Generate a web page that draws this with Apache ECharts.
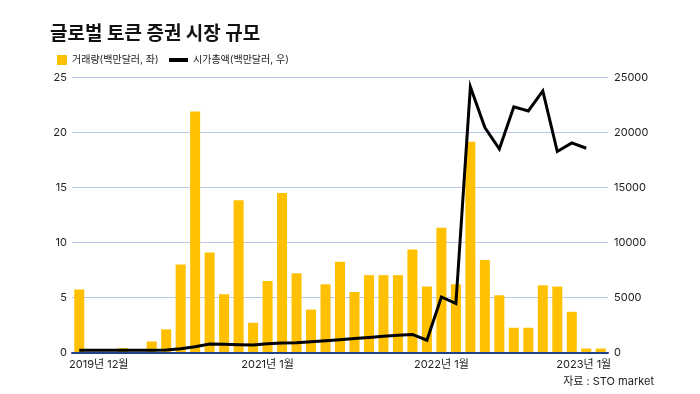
<!DOCTYPE html>
<html>
<head>
<meta charset="utf-8">
<script src="https://cdn.jsdelivr.net/npm/echarts@6/dist/echarts.min.js"></script>
<style>html,body{margin:0;padding:0;background:#fff;}#c{width:700px;height:394px;}</style>
</head>
<body>
<div id="c"></div>
<script>
const categories = [
  '2019년 12월',
  '2020년 1월','2020년 2월','2020년 3월','2020년 4월','2020년 5월','2020년 6월',
  '2020년 7월','2020년 8월','2020년 9월','2020년 10월','2020년 11월','2020년 12월',
  '2021년 1월','2021년 2월','2021년 3월','2021년 4월','2021년 5월','2021년 6월',
  '2021년 7월','2021년 8월','2021년 9월','2021년 10월','2021년 11월','2021년 12월',
  '2022년 1월','2022년 2월','2022년 3월','2022년 4월','2022년 5월','2022년 6월',
  '2022년 7월','2022년 8월','2022년 9월','2022년 10월','2022년 11월',
  '2023년 1월'
];
const tickLabels = ['2019년 12월','2021년 1월','2022년 1월','2023년 1월'];
const volume = [
  5.73, 0, 0, 0.4, 0, 1.0, 2.1, 8.0, 21.9, 9.1, 5.3, 13.85, 2.7,
  6.5, 14.5, 7.2, 3.9, 6.2, 8.25, 5.5, 7.03, 7.03, 7.03, 9.36, 6.0,
  11.35, 6.2, 19.15, 8.4, 5.2, 2.25, 2.25, 6.1, 6.0, 3.7, 0.36, 0.36
];
const marketCap = [
  200, 200, 200, 200, 200, 200, 220, 350, 530, 770, 740, 710, 690,
  790, 870, 880, 980, 1070, 1170, 1270, 1370, 1470, 1570, 1640, 1120,
  5050, 4450, 24150, 20450, 18500, 22330, 21960, 23780, 18270, 19050, 18570,
  null
];
const yLeftTicks = { min: 0, max: 25, step: 5 };
const yRightTicks = { min: 0, max: 25000, step: 5000 };

const FONT = "Inter, 'Noto Sans CJK KR', sans-serif";
const chart = echarts.init(document.getElementById('c'), null, { renderer: 'canvas' });
const lastIdx = categories.length - 1;

chart.setOption({
  animation: false,
  backgroundColor: '#ffffff',
  textStyle: { fontFamily: FONT },
  title: [
    {
      text: '글로벌 토큰 증권 시장 규모',
      left: 45, top: 20, padding: 5,
      textStyle: { fontFamily: FONT, fontSize: 19, fontWeight: 'bold', color: '#111' }
    },
    {
      text: '자료 : STO market',
      right: 41, bottom: 2, padding: 5,
      textStyle: { fontFamily: FONT, fontSize: 11, fontWeight: 'normal', color: '#222' }
    }
  ],
  legend: [
    {
      data: [{ name: '거래량(백만달러, 좌)', icon: 'rect' }],
      left: 52, top: 50,
      itemWidth: 10, itemHeight: 10, itemGap: 6,
      textStyle: { fontFamily: FONT, fontSize: 10, color: '#222' }
    },
    {
      data: [{ name: '시가총액(백만달러, 우)', icon: 'rect' }],
      left: 164, top: 50,
      itemWidth: 19, itemHeight: 4,
      itemStyle: { color: '#000' },
      textStyle: { fontFamily: FONT, fontSize: 10, color: '#222' }
    }
  ],
  grid: { left: 72, right: 92, top: 77.5, bottom: 41.5, containLabel: false },
  xAxis: {
    type: 'category',
    data: categories,
    boundaryGap: true,
    axisLine: { show: true, lineStyle: { color: '#1f3f8f', width: 2 } },
    axisTick: { show: false },
    axisLabel: {
      interval: (i, v) => tickLabels.includes(v),
      margin: 7,
      fontFamily: FONT, fontSize: 11, color: '#222',
      formatter: (v, i) => i === 0 ? '{first|' + v + '}' : (i === lastIdx ? '{last|' + v + '}' : v),
      rich: {
        first: { padding: [0, 0, 0, 39], fontFamily: FONT, fontSize: 11, color: '#222' },
        last: { padding: [0, 34, 0, 0], fontFamily: FONT, fontSize: 11, color: '#222' }
      }
    },
    z: 5
  },
  yAxis: [
    {
      type: 'value',
      min: yLeftTicks.min, max: yLeftTicks.max, interval: yLeftTicks.step,
      axisLine: { show: false }, axisTick: { show: false },
      axisLabel: { margin: 5, fontFamily: FONT, fontSize: 11, color: '#222' },
      splitLine: { show: true, lineStyle: { color: '#b8c9e8', width: 1 } }
    },
    {
      type: 'value',
      min: yRightTicks.min, max: yRightTicks.max, interval: yRightTicks.step,
      axisLine: { show: false }, axisTick: { show: false },
      axisLabel: { margin: 6, fontFamily: FONT, fontSize: 11, color: '#222', formatter: v => String(v) },
      splitLine: { show: false }
    }
  ],
  series: [
    {
      name: '거래량(백만달러, 좌)',
      type: 'bar',
      yAxisIndex: 0,
      data: volume,
      barWidth: 10,
      itemStyle: { color: '#ffc000' },
      z: 2
    },
    {
      name: '시가총액(백만달러, 우)',
      type: 'line',
      yAxisIndex: 1,
      data: marketCap,
      showSymbol: false,
      symbol: 'none',
      lineStyle: { color: '#000000', width: 3, join: 'miter' },
      itemStyle: { color: '#000000' },
      z: 3
    }
  ]
});
</script>
</body>
</html>
